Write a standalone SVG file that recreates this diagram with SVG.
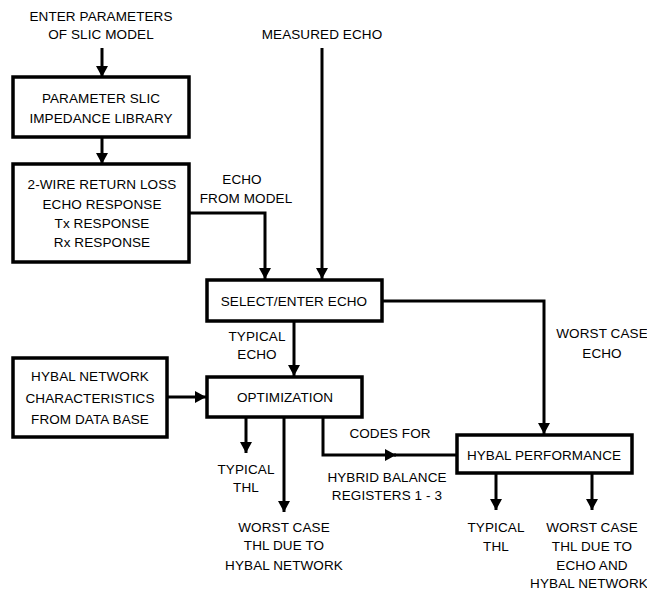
<svg xmlns="http://www.w3.org/2000/svg" width="647" height="592" viewBox="0 0 647 592">
<style>
text{font-family:"Liberation Sans",Arial,sans-serif;font-size:13.5px;fill:#000;text-anchor:middle;letter-spacing:0.1px}
.box{fill:#fff;stroke:#000;stroke-width:3.5}
.ln{fill:none;stroke:#000;stroke-width:3}
</style>
<defs>
<marker id="ah" markerUnits="userSpaceOnUse" markerWidth="14" markerHeight="14" viewBox="0 0 14 14" refX="12" refY="7" orient="auto">
<path d="M1,1 L12,7 L1,13 Z" fill="#000"/>
</marker>
</defs>
<rect width="647" height="592" fill="#fff"/>
<g id="connectors">
<path class="ln" d="M102,48 V77" marker-end="url(#ah)"/>
<path class="ln" d="M102,137 V164" marker-end="url(#ah)"/>
<path class="ln" d="M189,213 H265 V279" marker-end="url(#ah)"/>
<path class="ln" d="M322,48 V279" marker-end="url(#ah)"/>
<path class="ln" d="M382,301 H544 V434" marker-end="url(#ah)"/>
<path class="ln" d="M294,321 V376" marker-end="url(#ah)"/>
<path class="ln" d="M167,397 H206" marker-end="url(#ah)"/>
<path class="ln" d="M246,417 V453" marker-end="url(#ah)"/>
<path class="ln" d="M284,417 V512" marker-end="url(#ah)"/>
<path class="ln" d="M323,417 V455 H396" marker-end="url(#ah)"/>
<path class="ln" d="M394,455 H457"/>
<path class="ln" d="M496,473 V510" marker-end="url(#ah)"/>
<path class="ln" d="M592,473 V510" marker-end="url(#ah)"/>
<text x="242" y="184">ECHO</text>
<text x="246" y="203">FROM MODEL</text>
<text x="257" y="341">TYPICAL</text>
<text x="257" y="359">ECHO</text>
<text x="602" y="338">WORST CASE</text>
<text x="602" y="358">ECHO</text>
<text x="390" y="438">CODES FOR</text>
<text x="387" y="482">HYBRID BALANCE</text>
<text x="387" y="500">REGISTERS 1 - 3</text>
</g>
<g id="input-params">
<text x="101" y="21">ENTER PARAMETERS</text>
<text x="101" y="39">OF SLIC MODEL</text>
</g>
<g id="measured-echo">
<text x="322" y="39">MEASURED ECHO</text>
</g>
<g id="slic-library">
<rect class="box" x="13" y="77" width="176" height="60"/>
<text x="101" y="103">PARAMETER SLIC</text>
<text x="101" y="123">IMPEDANCE LIBRARY</text>
</g>
<g id="responses">
<rect class="box" x="13" y="164" width="176" height="98"/>
<text x="102" y="189">2-WIRE RETURN LOSS</text>
<text x="102" y="209">ECHO RESPONSE</text>
<text x="102" y="228">Tx RESPONSE</text>
<text x="102" y="247">Rx RESPONSE</text>
</g>
<g id="select-echo">
<rect class="box" x="207" y="280" width="175" height="41"/>
<text x="294" y="306">SELECT/ENTER ECHO</text>
</g>
<g id="hybal-network">
<rect class="box" x="13" y="358" width="154" height="79"/>
<text x="90" y="381">HYBAL NETWORK</text>
<text x="90" y="403">CHARACTERISTICS</text>
<text x="90" y="424">FROM DATA BASE</text>
</g>
<g id="optimization">
<rect class="box" x="207" y="377" width="155" height="40"/>
<text x="285" y="402">OPTIMIZATION</text>
</g>
<g id="hybal-performance">
<rect class="box" x="457" y="435" width="175" height="38"/>
<text x="544" y="460">HYBAL PERFORMANCE</text>
</g>
<g id="opt-typical-thl">
<text x="246" y="474">TYPICAL</text>
<text x="246" y="492">THL</text>
</g>
<g id="opt-worst-thl">
<text x="284" y="532">WORST CASE</text>
<text x="284" y="550">THL DUE TO</text>
<text x="284" y="570">HYBAL NETWORK</text>
</g>
<g id="perf-typical-thl">
<text x="496" y="532">TYPICAL</text>
<text x="496" y="551">THL</text>
</g>
<g id="perf-worst-thl">
<text x="592" y="532">WORST CASE</text>
<text x="592" y="551">THL DUE TO</text>
<text x="592" y="570">ECHO AND</text>
<text x="589" y="588">HYBAL NETWORK</text>
</g>
</svg>
